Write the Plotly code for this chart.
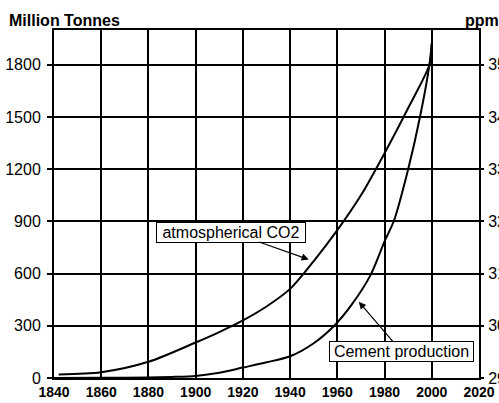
import plotly.graph_objects as go

# ---- data ----
co2_years = [1842, 1860, 1880, 1900, 1910, 1920, 1930, 1940, 1950, 1960, 1970, 1980, 1990, 1999, 2000]
co2_ppm = [290.67, 291.1, 293.1, 296.8, 298.8, 301.03, 303.7, 307.07, 312.4, 318.33,
           325.0, 333.07, 341.73, 350.0, 354.0]

cement_years = [1840, 1860, 1880, 1890, 1900, 1910, 1920, 1930, 1940, 1950, 1959, 1966, 1974,
                1980, 1984, 1990, 1995, 1999, 2000]
cement_mt = [0, 1, 3, 6, 12, 30, 60, 90, 125, 200, 305, 420, 590,
             785, 905, 1200, 1500, 1800, 1925]

x_ticks = list(range(1840, 2021, 20))
left_ticks = [0, 300, 600, 900, 1200, 1500, 1800]
right_ticks = [290, 300, 310, 320, 330, 340, 350]

FONT = "Liberation Sans, Arial, sans-serif"

fig = go.Figure()
fig.add_trace(go.Scatter(x=cement_years, y=cement_mt, mode="lines",
                         line=dict(color="black", width=2, shape="spline", smoothing=0.8),
                         showlegend=False, yaxis="y"))
fig.add_trace(go.Scatter(x=co2_years, y=co2_ppm, mode="lines",
                         line=dict(color="black", width=2, shape="spline", smoothing=0.8),
                         showlegend=False, yaxis="y2"))

fig.update_layout(
    width=499, height=403, autosize=False,
    margin=dict(l=54, r=20, t=30, b=25, pad=0),
    paper_bgcolor="white", plot_bgcolor="white",
    font=dict(family=FONT, color="black"),
    xaxis=dict(range=[1840, 2020], tickvals=x_ticks, showgrid=True, gridcolor="black",
               gridwidth=1.5, showline=True, linecolor="black", linewidth=2, mirror=True,
               ticks="", zeroline=False, automargin=False,
               tickfont=dict(size=14, family=FONT, weight=700)),
    yaxis=dict(range=[0, 2000], tickvals=left_ticks, showgrid=True, gridcolor="black",
               gridwidth=1.5, showline=True, linecolor="black", linewidth=2, mirror=True,
               ticks="outside", ticklen=5, tickcolor="black", tickwidth=1.5,
               zeroline=False, automargin=False, ticklabelstandoff=3,
               tickfont=dict(size=16, family=FONT)),
    yaxis2=dict(range=[290, 290 + 2000 / 30], tickvals=right_ticks, overlaying="y", side="right",
                showgrid=False, showline=False, zeroline=False, ticks="outside", ticklen=4,
                tickcolor="black", tickwidth=1.5, automargin=False, ticklabelstandoff=1,
                tickfont=dict(size=16, family=FONT)),
)

fig.add_annotation(xref="paper", yref="paper", x=-0.1106, y=1.026, xanchor="left",
                   yanchor="middle", text="<b>Million Tonnes</b>", showarrow=False,
                   font=dict(size=16, family=FONT))
fig.add_annotation(xref="paper", yref="paper", x=0.9624, y=1.026, xanchor="left",
                   yanchor="middle", text="<b>ppm</b>", showarrow=False,
                   font=dict(size=16, family=FONT))

fig.add_annotation(xref="x", yref="y", x=1947.9, y=681, ax=-78, ay=-27.5,
                   text="atmospherical CO2", showarrow=True, arrowhead=2, arrowsize=1.2,
                   arrowwidth=1.2, arrowcolor="black", bgcolor="white", bordercolor="black",
                   borderwidth=1, borderpad=1, width=146, height=17,
                   font=dict(size=16, family=FONT))
fig.add_annotation(xref="x", yref="y", x=1969.1, y=438, ax=42.5, ay=49.5,
                   text="Cement production", showarrow=True, arrowhead=2, arrowsize=1.2,
                   arrowwidth=1.2, arrowcolor="black", bgcolor="white", bordercolor="black",
                   borderwidth=1, borderpad=1, width=141, height=17,
                   font=dict(size=16, family=FONT))

fig.write_html("out.html", config={"displayModeBar": False},
               post_script="document.body.style.margin='0px';document.body.style.overflow='hidden';")
